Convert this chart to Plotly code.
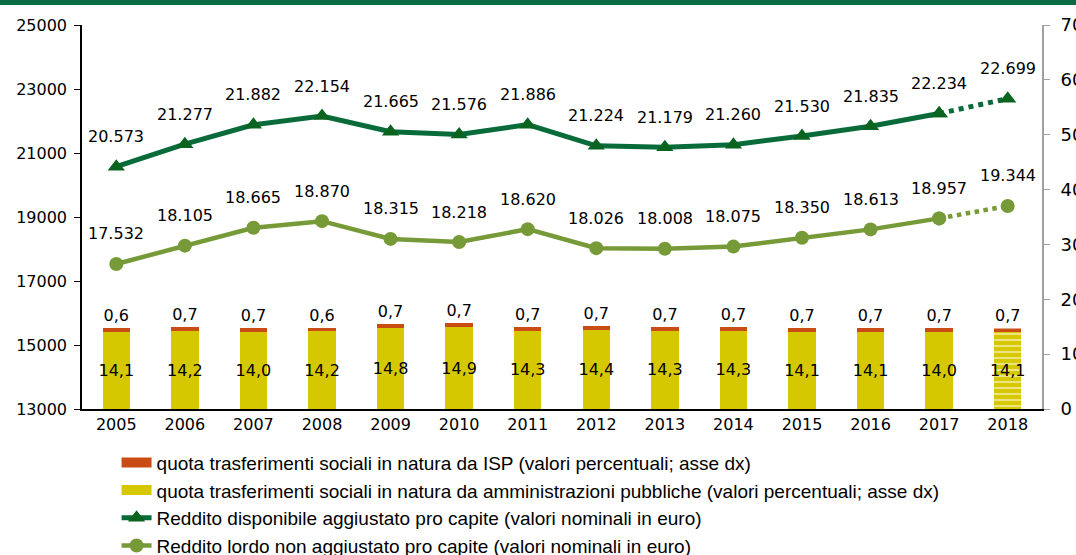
import plotly.graph_objects as go

# =========================
# Data
# =========================
years = list(range(2005, 2019))

reddito_agg = [20573, 21277, 21882, 22154, 21665, 21576, 21886,
               21224, 21179, 21260, 21530, 21835, 22234, 22699]
reddito_lordo = [17532, 18105, 18665, 18870, 18315, 18218, 18620,
                 18026, 18008, 18075, 18350, 18613, 18957, 19344]
quota_ap = [14.1, 14.2, 14.0, 14.2, 14.8, 14.9, 14.3,
            14.4, 14.3, 14.3, 14.1, 14.1, 14.0, 14.1]
quota_isp = [0.6, 0.7, 0.7, 0.6, 0.7, 0.7, 0.7,
             0.7, 0.7, 0.7, 0.7, 0.7, 0.7, 0.7]

# =========================
# Colors / fonts
# =========================
DARK_GREEN = '#0a6b3a'
DARK_MARK = '#0a6420'
LIGHT_GREEN = '#779a38'
YELLOW = '#d6c800'
ORANGE = '#c94c14'
FONT = 'DejaVu Sans'
LEG_FONT = 'Liberation Sans Narrow, Arial Narrow, Liberation Sans'

NAME_ISP = 'quota trasferimenti sociali in natura da ISP (valori percentuali; asse dx)'
NAME_AP = 'quota trasferimenti sociali in natura da amministrazioni pubbliche (valori percentuali; asse dx)'
NAME_AGG = 'Reddito disponibile aggiustato pro capite (valori nominali in euro)'
NAME_LORDO = 'Reddito lordo non aggiustato pro capite (valori nominali in euro)'

# 2018 is an estimate -> patterned bar
pattern = [''] * (len(years) - 1) + ['-']

fig = go.Figure()

# =========================
# Bars (right axis)
# =========================
fig.add_trace(go.Bar(
    x=years, y=quota_ap, yaxis='y2', name=NAME_AP,
    marker=dict(color=YELLOW, line_width=0,
                pattern=dict(shape=pattern, fgcolor='white', bgcolor=YELLOW,
                             size=6, solidity=0.35)),
    texttemplate='%{y:.1f}', textposition='inside', insidetextanchor='middle',
    textangle=0, constraintext='none',
    textfont=dict(family=FONT, size=16, color='black'),
    width=0.4, showlegend=False, hoverinfo='skip'
))
fig.add_trace(go.Bar(
    x=years, y=quota_isp, yaxis='y2', name=NAME_ISP,
    marker=dict(color=ORANGE, line_width=0,
                pattern=dict(shape=pattern, fgcolor='white', bgcolor=ORANGE,
                             size=6, solidity=0.35)),
    texttemplate='%{y:.1f}', textposition='outside', textangle=0,
    constraintext='none',
    textfont=dict(family=FONT, size=16, color='black'),
    cliponaxis=False, width=0.4, showlegend=False, hoverinfo='skip'
))

# legend swatches for the bars (wide rectangles as in the original)
for name, col, rank in ((NAME_ISP, ORANGE, 1), (NAME_AP, YELLOW, 2)):
    fig.add_trace(go.Scatter(
        x=[None], y=[None], mode='lines', name=name,
        line=dict(color=col, width=11), legendrank=rank
    ))

# =========================
# Lines (left axis)
# =========================
fig.add_trace(go.Scatter(
    x=years[:-1], y=reddito_agg[:-1], mode='lines+markers', name=NAME_AGG,
    line=dict(color=DARK_GREEN, width=5),
    marker=dict(symbol='triangle-up', size=15, color=DARK_MARK),
    legendrank=3
))
fig.add_trace(go.Scatter(
    x=years[-2:], y=reddito_agg[-2:], mode='lines+markers',
    line=dict(color=DARK_GREEN, width=5, dash='dot'),
    marker=dict(symbol='triangle-up', size=15, color=DARK_MARK),
    showlegend=False
))
fig.add_trace(go.Scatter(
    x=years[:-1], y=reddito_lordo[:-1], mode='lines+markers', name=NAME_LORDO,
    line=dict(color=LIGHT_GREEN, width=4.5),
    marker=dict(symbol='circle', size=14, color=LIGHT_GREEN),
    legendrank=4
))
fig.add_trace(go.Scatter(
    x=years[-2:], y=reddito_lordo[-2:], mode='lines+markers',
    line=dict(color=LIGHT_GREEN, width=4.5, dash='dot'),
    marker=dict(symbol='circle', size=14, color=LIGHT_GREEN),
    showlegend=False
))

# value labels above the line points
def fmt(v):
    return f"{v:,}".replace(',', '.')

for series in (reddito_agg, reddito_lordo):
    for yr, v in zip(years, series):
        fig.add_annotation(
            x=yr, y=v, xref='x', yref='y', text=fmt(v), showarrow=False, yshift=30,
            font=dict(family=FONT, size=16, color='black')
        )

# header stripe
fig.add_shape(type='rect', xref='paper', yref='paper',
              x0=-0.2, x1=1.2, y0=1.052, y1=1.1,
              fillcolor='#0b6b43', line_width=0)

# =========================
# Layout
# =========================
fig.update_layout(
    width=1076, height=555,
    barmode='stack',
    separators=',.',
    plot_bgcolor='white', paper_bgcolor='white',
    margin=dict(l=82, r=34, t=25, b=146, autoexpand=False),
    font=dict(family=FONT, size=16, color='black'),
    xaxis=dict(range=[2004.5, 2018.5], tickmode='array', tickvals=years,
               ticktext=[str(y) for y in years],
               showline=True, linecolor='black', linewidth=1.5,
               ticks='', showgrid=False, zeroline=False),
    yaxis=dict(range=[13000, 25000], tick0=13000, dtick=2000, tickformat='d',
               showline=True, linecolor='black', linewidth=1.5,
               ticks='outside', ticklen=6, tickcolor='black',
               ticklabelstandoff=4,
               showgrid=False, zeroline=False),
    yaxis2=dict(range=[0, 70], dtick=10, overlaying='y', side='right',
                showline=True, linecolor='#a0a0a0', linewidth=2,
                ticks='outside', ticklen=6, tickcolor='#a0a0a0',
                ticklabelstandoff=7, tickfont=dict(size=18),
                showgrid=False, zeroline=False),
    legend=dict(x=0.036, xanchor='left', y=-0.09, yanchor='top',
                orientation='v', traceorder='normal',
                font=dict(family=LEG_FONT, size=19, color='black'),
                tracegroupgap=0, bgcolor='rgba(0,0,0,0)'),
    showlegend=True
)

# drop the default page margin so the figure sits at the window's corner
fig.write_html("out.html", config={'displayModeBar': False},
               post_script="document.body.style.margin='0';")
